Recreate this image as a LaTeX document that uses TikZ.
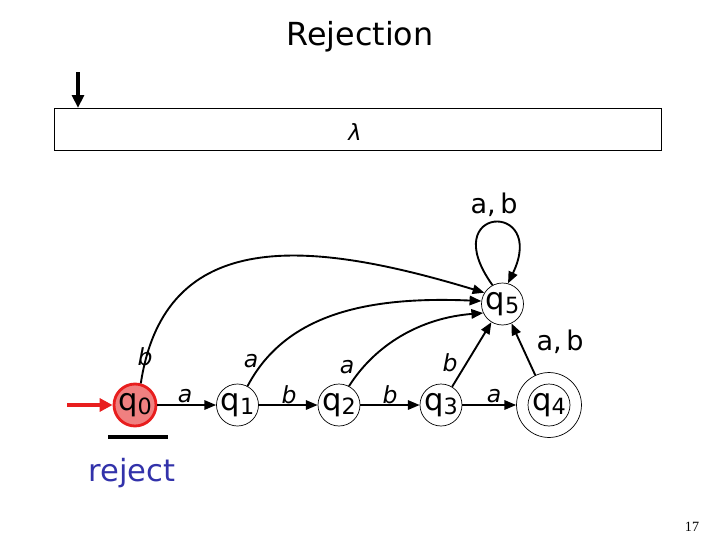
\documentclass[tikz,border=0pt]{standalone}
\usepackage{fontspec}
\setmainfont{DejaVu Sans}
\newfontfamily\pgfont{Liberation Serif}
\usetikzlibrary{arrows.meta}
\newcommand\qsub[2]{#1\raisebox{-3.5pt}{\fontsize{19}{19}\selectfont #2}}
\begin{document}
\begin{tikzpicture}[x=0.85pt,y=-0.85pt,
  state/.style={circle,draw,line width=0.6pt,minimum size=35.7pt,inner sep=0pt,
    font=\fontsize{26}{28}\selectfont},
  edge/.style={line width=1.6pt,-{Triangle[length=10pt,width=8pt]}},
  lab/.style={font=\fontsize{20}{21}\selectfont\itshape},
  ablab/.style={font=\fontsize{23}{25}\selectfont},
  tapearrow/.style={line width=2.6pt,-{Triangle[length=11pt,width=10pt]}}]
\useasboundingbox (0,0) rectangle (720,540);

% title
\node[font=\fontsize{27}{29}\selectfont] (title) at (360,37) {Rejection};

% tape
\node[draw,line width=0.7pt,minimum width=607*0.85pt,minimum height=42*0.85pt,inner sep=0pt]
  (tape) at (357.5,129) {};
\node[font=\fontsize{19}{20}\selectfont\itshape] (lam) at (355,132) {λ};
\coordinate (headtop) at (78,72);
\coordinate (headbot) at (78,108);
\draw[tapearrow] (headtop) -- (headbot);

% states
\node[state,fill={rgb,255:red,240;green,128;blue,128},draw={rgb,255:red,232;green,30;blue,30},line width=2.4pt]
  (q0) at (135,405) {\qsub{q}{0}};
\node[state] (q1) at (237.5,405) {\qsub{q}{1}};
\node[state] (q2) at (339,405) {\qsub{q}{2}};
\node[state] (q3) at (441,405) {\qsub{q}{3}};
\node[state] (q4) at (549,405) {\qsub{q}{4}};
\node[circle,draw,line width=0.6pt,minimum size=55.2pt,inner sep=0pt] (q4o) at (549,405) {};
\node[state] (q5) at (502.5,304) {\qsub{q}{5}};

% initial arrow
\coordinate (init) at (67,405);
\draw[line width=2.8pt,draw={rgb,255:red,232;green,30;blue,30},
  -{Triangle[length=11pt,width=11pt]},color={rgb,255:red,232;green,30;blue,30}] (init) -- (q0.west);

% horizontal edges
\draw[edge] (q0) -- (q1);
\draw[edge] (q1) -- (q2);
\draw[edge] (q2) -- (q3);
\draw[edge] (q3) -- (q4o);

% edges to q5
\draw[edge] (q0.75) .. controls (165,225) and (310,240) .. (q5.148);
\draw[edge] (q1.62) .. controls (285,315) and (365,296) .. (q5.172);
\draw[edge] (q2.62) .. controls (375,345) and (420,318) .. (q5.205);
\draw[edge] (q3) -- (q5);
\draw[edge] (q4o) -- (q5);
\draw[edge] (q5.118) .. controls (435,205) and (548,200) .. (q5.75);

% labels
\node[lab] (la01) at (185,396) {a};
\node[lab] (lb12) at (289,395) {b};
\node[lab] (lb23) at (390,395) {b};
\node[lab] (la34) at (494,396) {a};
\node[lab] (lb05) at (145,357) {b};
\node[lab] (la15) at (251,361) {a};
\node[lab] (la25) at (347,367) {a};
\node[lab] (lb35) at (450,363) {b};
\node[ablab] (lab45) at (560,342) {a,\,b};
\node[ablab] (lab55) at (494,205) {a,\,b};

% reject bar and text
\coordinate (barL) at (108,437);
\coordinate (barR) at (168,437);
\draw[line width=3.5pt] (barL) -- (barR);
\node[font=\fontsize{26}{28}\selectfont,text={rgb,255:red,50;green,50;blue,170}] (rej) at (132,473) {reject};

% page number
\node[font=\fontsize{12}{14}\selectfont\pgfont] (pg) at (692,527) {17};
\end{tikzpicture}
\end{document}
